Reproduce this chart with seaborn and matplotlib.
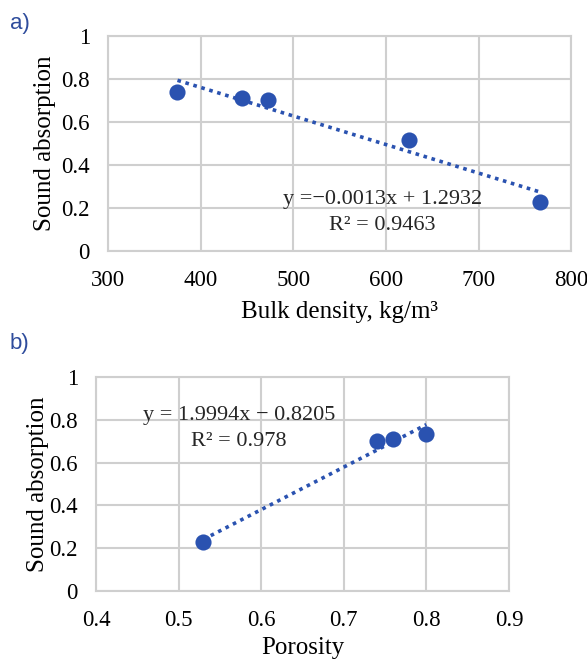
import numpy as np
import matplotlib
matplotlib.use("Agg")
import matplotlib.pyplot as plt
import seaborn as sns

# données
densite = [375, 445, 473, 625, 766]
absorption_a = [0.74, 0.71, 0.70, 0.515, 0.23]

porosite = [0.53, 0.74, 0.76, 0.80]
absorption_b = [0.23, 0.70, 0.71, 0.735]

eq_a = ["y =\u22120.0013x + 1.2932", "R\u00b2 = 0.9463"]
eq_b = ["y = 1.9994x \u2212 0.8205", "R\u00b2 = 0.978"]

sns.set_theme(style="white")
plt.rcParams['font.family'] = ['Liberation Serif', 'DejaVu Serif']

bleu = "#2A52B0"
gris = "#CFCFCF"

fig = plt.figure(figsize=(5.87, 6.65), dpi=100)
ax_a = fig.add_axes([0.184, 0.6226, 0.789, 0.3233])
ax_b = fig.add_axes([0.1635, 0.1113, 0.7036, 0.3218])


def panneau(ax, x, y, xlim, xticks, xlabel, eq, eq_pos, ypad, xpad):
    sns.regplot(x=np.array(x), y=np.array(y), ax=ax, ci=None, truncate=True,
                color=bleu,
                scatter_kws={"s": 135, "alpha": 1, "zorder": 3, "linewidths": 0},
                line_kws={"linestyle": (0, (1, 1.3)), "linewidth": 2.6, "zorder": 2})
    ax.set_xlim(*xlim)
    ax.set_ylim(0, 1)
    ax.set_xticks(xticks)
    ax.set_yticks([0, 0.2, 0.4, 0.6, 0.8, 1])
    ax.set_yticklabels(["0", "0.2", "0.4", "0.6", "0.8", "1"])
    ax.grid(True, color=gris, linewidth=1.5)
    ax.set_axisbelow(True)
    for s in ax.spines.values():
        s.set_color(gris)
        s.set_linewidth(1.5)
    ax.tick_params(length=0, labelsize=16.5, colors="black")
    ax.tick_params(axis="x", pad=14)
    ax.tick_params(axis="y", pad=13)
    ax.set_xlabel(xlabel, fontsize=18, labelpad=xpad, color="black")
    ax.set_ylabel("Sound absorption", fontsize=18, labelpad=ypad, color="black")
    ax.text(eq_pos[0], eq_pos[1], eq[0], fontsize=16, ha="center", va="center")
    ax.text(eq_pos[2], eq_pos[3], eq[1], fontsize=16, ha="center", va="center")


panneau(ax_a, densite, absorption_a, (300, 800), [300, 400, 500, 600, 700, 800],
        "Bulk density, kg/m\u00b3", eq_a, (596, 0.24, 596, 0.12), 4, 7)
ax_a.set_xticklabels(["300", "400", "500", "600", "700", "800"])

panneau(ax_b, porosite, absorption_b, (0.4, 0.9), [0.4, 0.5, 0.6, 0.7, 0.8, 0.9],
        "Porosity", eq_b, (0.573, 0.82, 0.573, 0.70), 0, 4)
ax_b.set_xticklabels(["0.4", "0.5", "0.6", "0.7", "0.8", "0.9"])

fig.text(10 / 587, 1 - 24 / 665, "a)", fontsize=16, color="#2E4C9C",
         family=['Liberation Sans', 'DejaVu Sans'], ha="left", va="center")
fig.text(10 / 587, 1 - 343 / 665, "b)", fontsize=16, color="#2E4C9C",
         family=['Liberation Sans', 'DejaVu Sans'], ha="left", va="center")

fig.savefig("out.png", dpi=100)
